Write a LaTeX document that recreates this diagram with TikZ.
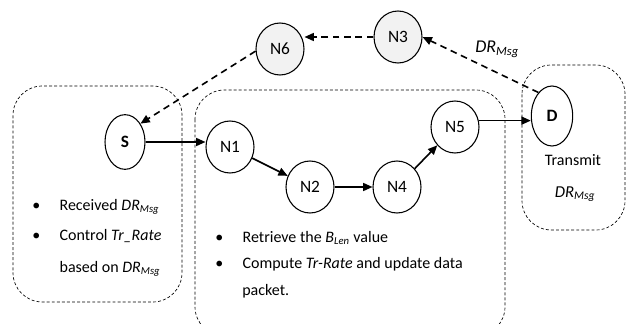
\documentclass[tikz,border=0pt]{standalone}
\usepackage{fontspec}
\setmainfont{Carlito}
\usetikzlibrary{shapes.geometric,arrows.meta}
\newcommand{\drmsg}{\textit{DR}\textsubscript{\textit{Msg}}}
\newcommand{\blen}{\textit{B}\textsubscript{\textit{Len}}}
\newcommand{\bul}{\makebox[20.5pt][l]{\textbullet}}
\begin{document}
\begin{tikzpicture}[x=0.75pt,y=-0.75pt,font=\fontsize{12}{14}\selectfont,
  hop/.style={draw,ellipse,line width=0.8pt,minimum width=36pt,minimum height=39pt,inner sep=0pt,font=\fontsize{13}{15}\selectfont},
  endpt/.style={draw,ellipse,line width=0.8pt,minimum width=30pt,minimum height=41pt,inner sep=0pt,font=\fontsize{13}{15}\selectfont\bfseries},
  zone/.style={draw,dash pattern=on 2.2pt off 1.6pt,line width=0.5pt,rounded corners=22pt},
  fwd/.style={line width=1.2pt,-{Triangle[length=7pt,width=6pt]}},
  back/.style={fwd,dash pattern=on 5pt off 3.5pt},
  txt/.style={anchor=base west,inner sep=0pt}]
  \useasboundingbox (0,0) rectangle (627,324);
  \clip (0,0) rectangle (627,324);
  % source, relay and destination zones
  \draw[zone] (13,86) rectangle (182,302);
  \draw[zone] (195,90) rectangle (505,336);
  \draw[zone] (522,65) rectangle (625,230);
  \node[endpt] (S) at (125,142) {S};
  \node[hop] (N1) at (230,147) {N1};
  \node[hop] (N2) at (310,187) {N2};
  \node[hop] (N4) at (397,187) {N4};
  \node[hop] (N5) at (455,127) {N5};
  \node[endpt,minimum width=31pt,minimum height=45pt] (D) at (552,116) {D};
  \node[hop,fill=gray!10] (N3) at (398,37) {N3};
  \node[hop,fill=gray!10] (N6) at (280,49) {N6};
  % forward path
  \draw[fwd] (S.east) -- (S.east -| N1.west);
  \draw[fwd] (N1) -- (N2);
  \draw[fwd] (N2) -- (N4);
  \draw[fwd] (N4) -- (N5);
  \draw[fwd] (N5.15) -- (N5.15 -| D.west);
  % feedback path
  \draw[back] (D.120) -- (N3.east);
  \draw[back] (N3.west) -- (N3.west -| N6.east);
  \draw[back] (N6.185) -- (S.50);
  \node[txt,font=\fontsize{13.5}{15}\selectfont] (fb) at (475,53) {\drmsg};
  \node[txt] (s1) at (32,210) {\bul Received \drmsg};
  \node[txt] (s2) at (32,240) {\bul Control \textit{Tr\_Rate}};
  \node[txt] (s3) at (32,272) {\hspace{20.5pt}based on \drmsg};
  \node[txt] (m1) at (215,242) {\bul Retrieve the \blen{} value};
  \node[txt] (m2) at (215,268) {\bul Compute \textit{Tr-Rate} and update data};
  \node[txt] (m3) at (215,295) {\hspace{20.25pt}packet.};
  \node[anchor=base,inner sep=0pt] (d1) at (573,165) {Transmit};
  \node[anchor=base,inner sep=0pt,font=\fontsize{12.5}{14}\selectfont] (d2) at (575,197) {\drmsg};
\end{tikzpicture}
\end{document}
